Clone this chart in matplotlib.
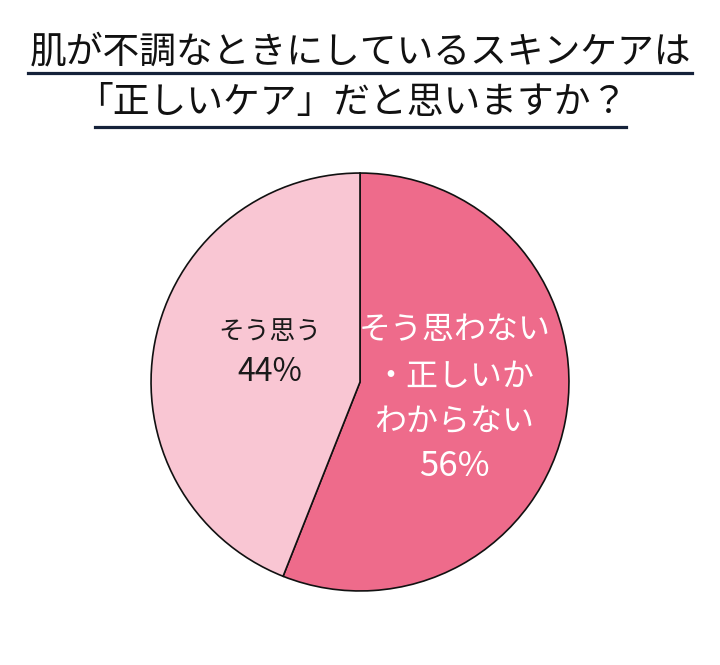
import matplotlib
matplotlib.use("Agg")
import matplotlib.pyplot as plt
from matplotlib.lines import Line2D

plt.rcParams['font.family'] = ['Noto Sans CJK JP', 'DejaVu Sans']

title_lines = ["肌が不調なときにしているスキンケアは", "「正しいケア」だと思いますか？"]
label_lines = [["そう思わない", "・正しいか", "わからない"], ["そう思う"]]
values = [56, 44]
colors = ["#EE6B8B", "#F9C6D3"]
text_colors = ["white", "#1a1a1a"]

W, H = 720, 665
fig = plt.figure(figsize=(W/100, H/100), dpi=100)
fig.patch.set_facecolor("white")

# Title lines with underline (pixel layout)
title_pos = [(360, 52), (352, 103)]
underlines = [(28, 692, 73), (95, 626, 127)]
for line, (tx, ty) in zip(title_lines, title_pos):
    fig.text(tx/W, 1 - ty/H, line, ha='center', va='center', fontsize=26.5, color='#111111')
for x0, x1, uy in underlines:
    fig.add_artist(Line2D([x0/W, x1/W], [1 - uy/H]*2,
                          transform=fig.transFigure, color='#15223a', lw=2.3))

cx, cy, r = 360, 382, 210
ax = fig.add_axes([(cx - r)/W, (H - cy - r)/H, 2*r/W, 2*r/H])
wedges, _ = ax.pie(values, colors=colors, startangle=90, counterclock=False,
                   wedgeprops=dict(edgecolor='#111111', linewidth=1.2))
ax.set_xlim(-1.005, 1.005)
ax.set_ylim(-1.005, 1.005)
ax.set_aspect('equal')
ax.axis('off')

def px(x, y):
    return (x - cx)/r, -(y - cy)/r

# labels: (center x, line ys, word size, pct y, pct size)
specs = [
    (455, [330, 377, 422], 23, 467, 25),
    (269, [332], 18.5, 372, 23),
]
for (lx, ys, fs, py, pfs), lines, v, tc in zip(specs, label_lines, values, text_colors):
    for ln, yy in zip(lines, ys):
        ax.text(*px(lx, yy), ln, ha='center', va='center', fontsize=fs, color=tc)
    ax.text(*px(lx, py), f"{v}%", ha='center', va='center', fontsize=pfs, color=tc)

fig.savefig("out.png", dpi=100, facecolor="white")
